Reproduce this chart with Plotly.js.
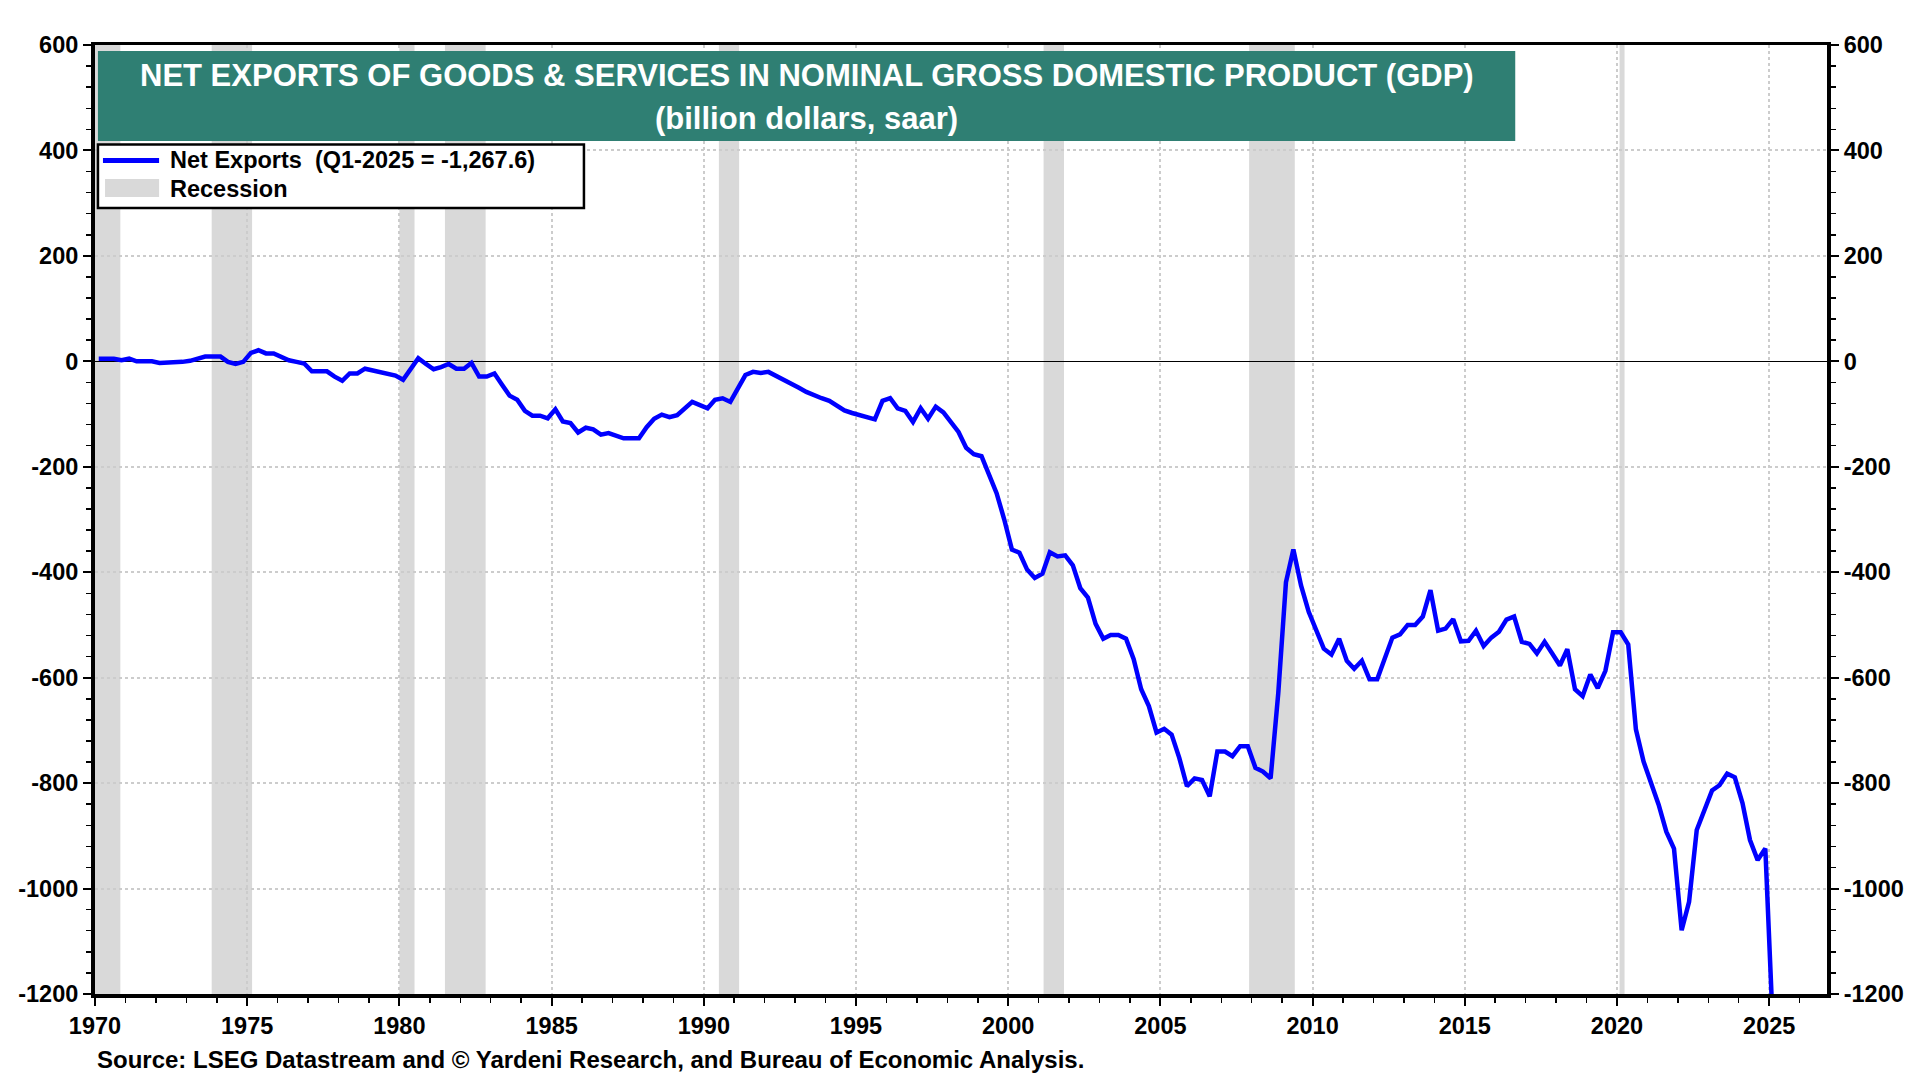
<!DOCTYPE html>
<html>
<head>
<meta charset="utf-8">
<script src="https://cdn.plot.ly/plotly-3.0.1.min.js"></script>
<style>
  html, body { margin: 0; padding: 0; background: #ffffff; }
  #chart { width: 1920px; height: 1080px; }
</style>
</head>
<body>
<div id="chart"></div>
<script>
// quarterly net exports, billion dollars saar, 1970 Q1 .. 2025 Q1
var startYear = 1970;
var netExports = [
  5, 5, 5, 2,          // 1970
  5, 0, 0, 0,          // 1971
  -3, -3, -3, -1,      // 1972
  1, 5, 9, 9,          // 1973
  9, -1, -5, -1,       // 1974
  16, 21, 15, 15,      // 1975
  8, 2, -1, -4,        // 1976
  -19, -19, -19, -29,  // 1977
  -37, -23, -23, -14,  // 1978
  -17, -20, -23, -27,  // 1979
  -35, -13, 6, -5,     // 1980
  -15, -11, -5, -14,   // 1981
  -14, -3, -29, -29,   // 1982
  -23, -44, -65, -73,  // 1983
  -94, -103, -103, -108,   // 1984
  -91, -114, -117, -135,   // 1985
  -126, -129, -139, -136,  // 1986
  -141, -146, -146, -146,  // 1987
  -125, -109, -101, -106,  // 1988
  -102, -89, -77, -83,     // 1989
  -89, -73, -70, -77,      // 1990
  -51, -26, -20, -22,      // 1991
  -20, -27, -35, -42,      // 1992
  -50, -58, -65, -70,      // 1993
  -75, -83, -93, -98,      // 1994
  -102, -107, -110, -75,   // 1995
  -70, -89, -94, -115,     // 1996
  -89, -109, -86, -97,     // 1997
  -115, -134, -164, -176,  // 1998
  -180, -215, -250, -300,  // 1999
  -357, -363, -395, -411,  // 2000
  -403, -362, -370, -368,  // 2001
  -387, -430, -448, -498,  // 2002
  -526, -519, -519, -526,  // 2003
  -565, -622, -654, -704,  // 2004
  -697, -708, -752, -806,  // 2005
  -791, -794, -825, -740,  // 2006
  -740, -749, -730, -730,  // 2007
  -771, -778, -791, -629,  // 2008
  -419, -357, -425, -475,  // 2009
  -508, -545, -556, -526,  // 2010
  -568, -583, -568, -603,  // 2011
  -603, -565, -524, -518,  // 2012
  -500, -500, -484, -434,  // 2013
  -511, -507, -489, -531,  // 2014
  -530, -511, -540, -524,  // 2015
  -513, -490, -484, -532,  // 2016
  -536, -554, -532, -554,  // 2017
  -577, -546, -622, -635,  // 2018
  -594, -620, -587, -514,  // 2019
  -514, -537, -698, -759,  // 2020
  -800, -841, -892, -924,  // 2021
  -1079, -1025, -889, -851,  // 2022
  -814, -804, -782, -789,    // 2023
  -838, -908, -946, -924,    // 2024
  -1267.6                    // 2025
];

// NBER recessions
var recessionStart = ['1969-12-01', '1973-11-01', '1980-01-01', '1981-07-01', '1990-07-01', '2001-03-01', '2007-12-01', '2020-02-01'];
var recessionEnd   = ['1970-11-01', '1975-03-01', '1980-07-01', '1982-11-01', '1991-03-01', '2001-11-01', '2009-06-01', '2020-04-01'];

var yTicks = [600, 400, 200, 0, -200, -400, -600, -800, -1000, -1200];

var seriesName = 'Net Exports  (Q1-2025 = -1,267.6)';
var recessionName = 'Recession';

// quarter dates (middle month of each quarter)
var quarterDates = [];
var midMonth = ['02', '05', '08', '11'];
for (var i = 0; i < netExports.length; i++) {
    var yr = startYear + Math.floor(i / 4);
    quarterDates.push(yr + '-' + midMonth[i % 4] + '-15');
}

var fontFam = '"Liberation Sans", Arial, sans-serif';
var lineBlue = '#0000ff';
var recGray = '#d9d9d9';

var shapes = [];
for (var r = 0; r < recessionStart.length; r++) {
    shapes.push({
        type: 'rect', xref: 'x', yref: 'paper',
        x0: recessionStart[r], x1: recessionEnd[r], y0: 0, y1: 1,
        fillcolor: recGray, line: {width: 0}, layer: 'below'
    });
}
// title box
shapes.push({
    type: 'rect', xref: 'paper', yref: 'paper',
    x0: 0.0017, x1: 0.820, y0: 0.8988, y1: 0.9937,
    fillcolor: '#2f7f73', line: {width: 0}, layer: 'above'
});
// legend box, drawn by hand
shapes.push({
    type: 'rect', xref: 'paper', yref: 'paper',
    x0: 0.0017, x1: 0.2823, y0: 0.8282, y1: 0.8952,
    fillcolor: '#ffffff', line: {color: '#000', width: 2.5}, layer: 'above'
});
shapes.push({
    type: 'line', xref: 'paper', yref: 'paper',
    x0: 0.0046, x1: 0.0370, y0: 0.8784, y1: 0.8784,
    line: {color: lineBlue, width: 5}, layer: 'above'
});
shapes.push({
    type: 'rect', xref: 'paper', yref: 'paper',
    x0: 0.0058, x1: 0.0370, y0: 0.8398, y1: 0.8588,
    fillcolor: recGray, line: {width: 0}, layer: 'above'
});

var traceLine = {
    x: quarterDates,
    y: netExports,
    type: 'scatter',
    mode: 'lines',
    name: seriesName,
    line: {color: lineBlue, width: 4.5}
};

// invisible copy so the right-hand axis is drawn
var traceRight = {
    x: quarterDates, y: netExports,
    type: 'scatter', mode: 'lines', yaxis: 'y2',
    line: {color: 'rgba(0,0,0,0)', width: 0},
    showlegend: false, hoverinfo: 'skip'
};

var tickFont = {family: fontFam, size: 23.5, color: '#000000', weight: 'bold'};
var legFont = {family: fontFam, size: 23.5, color: '#000', weight: 'bold'};

var yCommon = {
    range: [-1200, 600],
    tickvals: yTicks,
    ticktext: yTicks.map(String),
    tickfont: tickFont,
    ticks: 'outside', ticklen: 8, tickwidth: 2, tickcolor: '#000',
    showline: true, linecolor: '#000', linewidth: 4,
    minor: {dtick: 40, tick0: 0, ticks: 'outside', ticklen: 5, tickwidth: 1.5, tickcolor: '#000', showgrid: false},
    fixedrange: true
};

var layout = {
    width: 1920, height: 1080,
    margin: {l: 95, r: 93, t: 45, b: 86},
    paper_bgcolor: '#ffffff',
    plot_bgcolor: '#ffffff',
    font: {family: fontFam, color: '#000'},
    showlegend: false,
    xaxis: {
        type: 'date',
        range: ['1970-01-01', '2026-11-25'],
        tick0: '1970-01-01', dtick: 'M60', tickformat: '%Y',
        tickfont: tickFont,
        ticks: 'outside', ticklen: 8, tickwidth: 2, tickcolor: '#000',
        showline: true, linecolor: '#000', linewidth: 3.5, mirror: true,
        showgrid: true, gridcolor: '#cccccc', gridwidth: 2, griddash: 'dot',
        minor: {dtick: 'M12', tick0: '1970-01-01', ticks: 'outside', ticklen: 5, tickwidth: 1.5, tickcolor: '#000', showgrid: false},
        fixedrange: true
    },
    yaxis: Object.assign({}, yCommon, {
        side: 'left',
        showgrid: true, gridcolor: '#cccccc', gridwidth: 2, griddash: 'dot',
        zeroline: true, zerolinecolor: '#000', zerolinewidth: 1
    }),
    yaxis2: Object.assign({}, yCommon, {
        side: 'right', overlaying: 'y',
        showgrid: false, zeroline: false
    }),
    shapes: shapes,
    annotations: [
        {
            xref: 'paper', yref: 'paper', x: 0.411, y: 0.968,
            text: 'NET EXPORTS OF GOODS &amp; SERVICES IN NOMINAL GROSS DOMESTIC PRODUCT (GDP)',
            showarrow: false, xanchor: 'center', yanchor: 'middle',
            font: {family: fontFam, size: 31, color: '#ffffff', weight: 'bold'}
        },
        {
            xref: 'paper', yref: 'paper', x: 0.411, y: 0.923,
            text: '(billion dollars, saar)',
            showarrow: false, xanchor: 'center', yanchor: 'middle',
            font: {family: fontFam, size: 31, color: '#ffffff', weight: 'bold'}
        },
        {
            xref: 'paper', yref: 'paper', x: 0.0421, y: 0.8783,
            text: seriesName,
            showarrow: false, xanchor: 'left', yanchor: 'middle',
            font: legFont
        },
        {
            xref: 'paper', yref: 'paper', x: 0.0421, y: 0.8487,
            text: recessionName,
            showarrow: false, xanchor: 'left', yanchor: 'middle',
            font: legFont
        },
        {
            xref: 'paper', yref: 'paper', x: 0, y: -0.0695,
            text: 'Source: LSEG Datastream and © Yardeni Research, and Bureau of Economic Analysis.',
            showarrow: false, xanchor: 'left', yanchor: 'middle',
            font: {family: fontFam, size: 24, color: '#000', weight: 'bold'}
        }
    ]
};

Plotly.newPlot('chart', [traceLine, traceRight], layout, {displayModeBar: false, staticPlot: true});
</script>
</body>
</html>
